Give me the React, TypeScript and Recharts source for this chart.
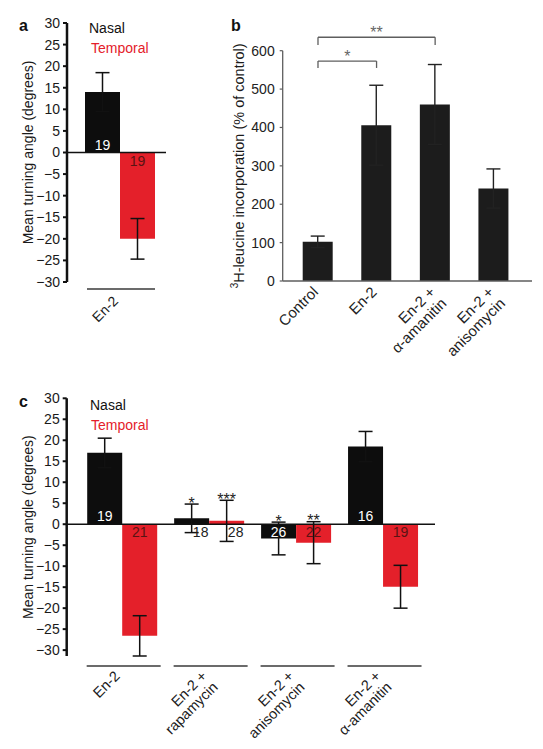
import React from 'react';
import { BarChart, Bar, XAxis, YAxis, ErrorBar, ReferenceLine, LabelList } from 'recharts';

const FONT = '"Liberation Sans", Arial, Helvetica, sans-serif';
const BLACK = '#0d0d0d';
const RED = '#e4202a';
const RED_TEXT = '#5a1313';
const GREY = '#5e5e5e';

// ---------- Panel a ----------
const aCategories = ['En-2'];
const aTickLines = [['En-2']];
const aNasal = [14];
const aNasalErr = [4.5];
const aTemporal = [-20];
const aTemporalErr = [4.7];
const aNasalN = [19];
const aTemporalN = [19];

// ---------- Panel b ----------
const bCategories = ['Control', 'En-2', 'En-2 + α-amanitin', 'En-2 + anisomycin'];
const bTickLines = [['Control'], ['En-2'], ['En-2 +', 'α-amanitin'], ['En-2 +', 'anisomycin']];
const bValues = [102, 406, 460, 241];
const bErr = [15, 104, 104, 51];
const bSigFrom = ['Control', 'Control'];
const bSigTo = ['En-2', 'En-2 + α-amanitin'];
const bSigTop = [573, 635];
const bSigBottom = [555, 615];
const bSigLabel = ['*', '**'];
const bTicks = [0, 100, 200, 300, 400, 500, 600];

// ---------- Panel c ----------
const cCategories = ['En-2', 'En-2 + rapamycin', 'En-2 + anisomycin', 'En-2 + α-amanitin'];
const cTickLines = [['En-2'], ['En-2 +', 'rapamycin'], ['En-2 +', 'anisomycin'], ['En-2 +', 'α-amanitin']];
const cNasal = [17, 1.4, -3.4, 18.5];
const cNasalErr = [3.5, 3.4, 3.9, 3.6];
const cTemporal = [-26.6, 0.8, -4.4, -14.9];
const cTemporalErr = [4.8, 4.9, 5.0, 5.1];
const cNasalN = [19, 18, 26, 16];
const cTemporalN = [21, 28, 22, 19];
const cNasalSig = ['', '*', '*', ''];
const cTemporalSig = ['', '***', '**', ''];

const turnTicks = [-30, -25, -20, -15, -10, -5, 0, 5, 10, 15, 20, 25, 30];

const aData = aCategories.map((name, i) => ({
  name,
  nasal: aNasal[i],
  nasalErr: aNasalErr[i],
  temporal: aTemporal[i],
  temporalErr: aTemporalErr[i],
}));
const bData = bCategories.map((name, i) => ({ name, value: bValues[i], err: bErr[i] }));
const cData = cCategories.map((name, i) => ({
  name,
  nasal: cNasal[i],
  nasalErr: cNasalErr[i],
  temporal: cTemporal[i],
  temporalErr: cTemporalErr[i],
}));

const minusFmt = (v: number) => (v < 0 ? '\u2212' + Math.abs(v) : String(v));

const zeroOf = (y: number, height: number, v: number) => {
  const top = Math.min(y, y + height);
  const bottom = Math.max(y, y + height);
  return v >= 0 ? bottom : top;
};

const makeCountLabel = (values: number[], counts: number[], kind: 'nasal' | 'temporal') => (props: any) => {
  const { x, y, width, height, index } = props;
  const v = values[index];
  const zeroY = zeroOf(Number(y), Number(height), v);
  const small = Math.abs(v) < 2;
  const below = v < 0 || small;
  const ty = below ? zeroY + 13 : zeroY - 3;
  const cx = Number(x) + Number(width) / 2 + (small ? 9 : 0);
  const fill = small ? '#222' : kind === 'nasal' ? '#ffffff' : RED_TEXT;
  return (
    <text x={cx} y={ty} textAnchor="middle" fontSize={14} fill={fill} fontFamily={FONT}>
      {counts[index]}
    </text>
  );
};

const makeStarLabel = (values: number[], errs: number[], stars: string[]) => (props: any) => {
  const { x, y, width, height, index } = props;
  const s = stars[index];
  if (!s) return null;
  const v = values[index];
  const e = errs[index];
  const h = Math.abs(Number(height));
  if (!v || !h) return null;
  const zeroY = zeroOf(Number(y), Number(height), v);
  const k = h / Math.abs(v);
  const errTop = zeroY - (v + e) * k;
  return (
    <text x={Number(x) + Number(width) / 2} y={errTop + 4.8} textAnchor="middle" fontSize={16} fill="#222" fontFamily={FONT}>
      {s}
    </text>
  );
};

const makeGroupTick = (
  lines: string[][],
  half: number,
  lineDy: number,
  textDx: number,
  textDy: number,
  showLine: boolean,
  color: string,
  fontSize: number
) => (props: any) => {
  const { x, y, payload } = props;
  const idx = props.index ?? payload?.index ?? 0;
  const ls = lines[idx] ?? [String(payload?.value ?? '')];
  return (
    <g>
      {showLine && (
        <line x1={x - half + 1} x2={x + half + 1} y1={y + lineDy} y2={y + lineDy} stroke="#3a3a3a" strokeWidth={1.6} />
      )}
      <text
        transform={`translate(${x + textDx},${y + textDy}) rotate(-45)`}
        textAnchor="end"
        fontSize={fontSize}
        fill={color}
        fontFamily={FONT}
      >
        {ls.map((l, i) => (
          <tspan key={i} x={0} dy={i === 0 ? 0 : fontSize + 1}>
            {l}
          </tspan>
        ))}
      </text>
    </g>
  );
};

const turnYTitle = (props: any) => {
  const vb = props.viewBox || { x: 0, y: 0, width: 0, height: 0 };
  const cx = vb.x + 11;
  const cy = vb.y + vb.height / 2;
  return (
    <text
      x={cx}
      y={cy}
      transform={`rotate(-90, ${cx}, ${cy})`}
      textAnchor="middle"
      dominantBaseline="central"
      fontSize={14}
      fill="#1a1a1a"
      fontFamily={FONT}
    >
      Mean turning angle (degrees)
    </text>
  );
};

const leucineYTitle = (props: any) => {
  const vb = props.viewBox || { x: 0, y: 0, width: 0, height: 0 };
  const cx = vb.x + 6;
  const cy = vb.y + vb.height / 2;
  return (
    <text
      x={cx}
      y={cy}
      transform={`rotate(-90, ${cx}, ${cy})`}
      textAnchor="middle"
      dominantBaseline="central"
      fontSize={14.5}
      fill="#1a1a1a"
      fontFamily={FONT}
    >
      <tspan fontSize={10} dy={-5}>3</tspan>
      <tspan dy={5}>H-leucine incorporation (% of control)</tspan>
    </text>
  );
};

const turnYAxisProps = {
  domain: [-30, 30] as [number, number],
  ticks: turnTicks,
  interval: 0 as const,
  tickFormatter: minusFmt,
  axisLine: { stroke: '#111', strokeWidth: 2.5 },
  tickLine: { stroke: '#111', strokeWidth: 2 },
  tickSize: 4,
  tickMargin: 3,
  tick: { fontSize: 14, fill: '#1a1a1a', fontFamily: FONT },
  width: 50,
};

export default function App() {
  return (
    <div style={{ position: 'absolute', left: 0, top: 0, width: 543, height: 749, background: '#fff', overflow: 'hidden' }}>
      {/* Panel a */}
      <div style={{ position: 'absolute', left: 0, top: 0 }}>
        <BarChart width={200} height={345} data={aData} margin={{ top: 23, right: 34, bottom: 43, left: 17 }} barGap={0}>
          <XAxis
            dataKey="name"
            type="category"
            axisLine={false}
            tickLine={false}
            tickSize={0}
            tickMargin={0}
            height={20}
            interval={0}
            padding={{ left: 7, right: 0 }}
            tick={makeGroupTick(aTickLines, 34, 7, -1, 20, true, '#1a1a1a', 14)}
          />
          <YAxis {...turnYAxisProps} label={turnYTitle} />
          <ReferenceLine y={0} stroke="#111" strokeWidth={1.6} />
          <Bar dataKey="nasal" fill={BLACK} barSize={35} isAnimationActive={false}>
            <ErrorBar dataKey="nasalErr" width={7} stroke="#111" strokeWidth={1.5} />
            <LabelList dataKey="nasal" content={makeCountLabel(aNasal, aNasalN, 'nasal')} />
          </Bar>
          <Bar dataKey="temporal" fill={RED} barSize={35} isAnimationActive={false}>
            <ErrorBar dataKey="temporalErr" width={7} stroke="#111" strokeWidth={1.5} />
            <LabelList dataKey="temporal" content={makeCountLabel(aTemporal, aTemporalN, 'temporal')} />
          </Bar>
        </BarChart>
      </div>

      {/* Panel b */}
      <div style={{ position: 'absolute', left: 222, top: 0 }}>
        <BarChart width={321} height={400} data={bData} margin={{ top: 50.7, right: 11, bottom: 99, left: 10.7 }}>
          <XAxis
            dataKey="name"
            type="category"
            axisLine={{ stroke: GREY, strokeWidth: 1.3 }}
            tickLine={false}
            tickSize={0}
            tickMargin={0}
            height={20}
            interval={0}
            padding={{ left: 6, right: 9 }}
            tick={makeGroupTick(bTickLines, 0, 0, 1, 12, false, '#222', 15)}
          />
          <YAxis
            domain={[0, 600]}
            ticks={bTicks}
            interval={0}
            axisLine={{ stroke: GREY, strokeWidth: 1.3 }}
            tickLine={{ stroke: GREY, strokeWidth: 1.2 }}
            tickSize={3}
            tickMargin={5}
            tick={{ fontSize: 14, fill: '#222', fontFamily: FONT }}
            width={50}
            label={leucineYTitle}
          />
          <Bar dataKey="value" fill="#1c1c1c" barSize={30} isAnimationActive={false}>
            <ErrorBar dataKey="err" width={7} stroke="#222" strokeWidth={1.4} />
          </Bar>
          {bSigLabel.map((lab, i) => (
            <ReferenceLine
              key={'h' + i}
              segment={[
                { x: bSigFrom[i], y: bSigTop[i] },
                { x: bSigTo[i], y: bSigTop[i] },
              ]}
              stroke={GREY}
              strokeWidth={1.3}
              ifOverflow="visible"
              label={{ value: lab, position: 'top', fill: '#666', fontSize: 16, offset: -1, fontFamily: FONT }}
            />
          ))}
          {bSigLabel.map((lab, i) => (
            <ReferenceLine
              key={'l' + i}
              segment={[
                { x: bSigFrom[i], y: bSigBottom[i] },
                { x: bSigFrom[i], y: bSigTop[i] },
              ]}
              stroke={GREY}
              strokeWidth={1.3}
              ifOverflow="visible"
            />
          ))}
          {bSigLabel.map((lab, i) => (
            <ReferenceLine
              key={'r' + i}
              segment={[
                { x: bSigTo[i], y: bSigBottom[i] },
                { x: bSigTo[i], y: bSigTop[i] },
              ]}
              stroke={GREY}
              strokeWidth={1.3}
              ifOverflow="visible"
            />
          ))}
        </BarChart>
      </div>

      {/* Panel c */}
      <div style={{ position: 'absolute', left: 0, top: 370 }}>
        <BarChart width={460} height={379} data={cData} margin={{ top: 28.3, right: 25, bottom: 73, left: 16.7 }} barGap={0}>
          <XAxis
            dataKey="name"
            type="category"
            axisLine={false}
            tickLine={false}
            tickSize={0}
            tickMargin={0}
            height={20}
            interval={0}
            padding={{ left: 12.5, right: 8 }}
            tick={makeGroupTick(cTickLines, 37, 10, -2, 21, true, '#1a1a1a', 14.5)}
          />
          <YAxis {...turnYAxisProps} label={turnYTitle} />
          <ReferenceLine y={0} stroke="#111" strokeWidth={1.6} />
          <Bar dataKey="nasal" fill={BLACK} barSize={35} isAnimationActive={false}>
            <ErrorBar dataKey="nasalErr" width={7} stroke="#111" strokeWidth={1.5} />
            <LabelList dataKey="nasal" content={makeCountLabel(cNasal, cNasalN, 'nasal')} />
            <LabelList dataKey="nasal" content={makeStarLabel(cNasal, cNasalErr, cNasalSig)} />
          </Bar>
          <Bar dataKey="temporal" fill={RED} barSize={35} isAnimationActive={false}>
            <ErrorBar dataKey="temporalErr" width={7} stroke="#111" strokeWidth={1.5} />
            <LabelList dataKey="temporal" content={makeCountLabel(cTemporal, cTemporalN, 'temporal')} />
            <LabelList dataKey="temporal" content={makeStarLabel(cTemporal, cTemporalErr, cTemporalSig)} />
          </Bar>
        </BarChart>
      </div>

      {/* Panel letters and legends */}
      <svg width={543} height={749} style={{ position: 'absolute', left: 0, top: 0, pointerEvents: 'none' }}>
        <g fontFamily={FONT}>
          <text x={19} y={31} fontSize={16} fontWeight="bold" fill="#111">a</text>
          <text x={231} y={31} fontSize={16} fontWeight="bold" fill="#111">b</text>
          <text x={19} y={407} fontSize={16} fontWeight="bold" fill="#111">c</text>
          <text x={89} y={33} fontSize={14} fill="#111">Nasal</text>
          <text x={91} y={53} fontSize={14} fill={RED}>Temporal</text>
          <text x={90} y={410} fontSize={14} fill="#111">Nasal</text>
          <text x={91} y={430} fontSize={14} fill={RED}>Temporal</text>
        </g>
      </svg>
    </div>
  );
}
